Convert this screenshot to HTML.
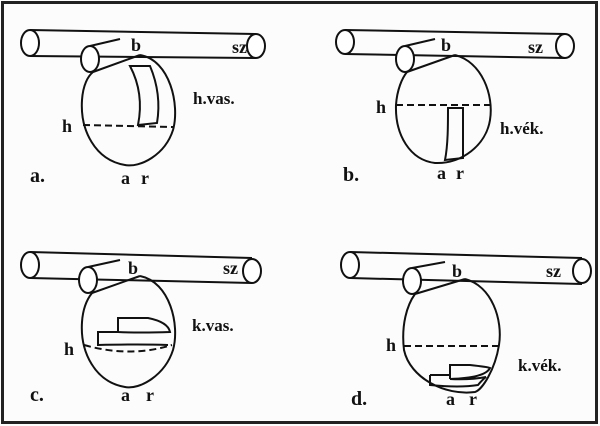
<!DOCTYPE html>
<html><head><meta charset="utf-8"><style>
html,body{margin:0;padding:0;background:#fff}
svg{display:block}
text{font-family:"Liberation Serif",serif;font-weight:bold;fill:#111}
</style></head><body>
<svg width="600" height="426" viewBox="0 0 600 426" xmlns="http://www.w3.org/2000/svg">
<rect x="0" y="0" width="600" height="426" fill="#fcfcfc"/>
<rect x="2.5" y="2.5" width="594" height="420" fill="none" stroke="#222" stroke-width="3"/>
<g fill="none" stroke="#111" stroke-width="2">
<!-- Panel a -->
<line x1="30" y1="30" x2="256" y2="34"/><line x1="30" y1="56" x2="256" y2="58"/>
<ellipse cx="30" cy="43" rx="9" ry="13" fill="#fff"/><ellipse cx="256" cy="46" rx="9" ry="12" fill="#fff"/>
<path d="M140,55 C170,60 180,105 173,130 C165,155 140,168 125,165 C95,160 80,130 82,100 C83,85 88,76 93,72"/>
<ellipse cx="90" cy="59" rx="9" ry="13" fill="#fff"/>
<line x1="90" y1="46" x2="120" y2="39"/><line x1="93" y1="72" x2="140" y2="55"/>
<line x1="83" y1="125" x2="173" y2="127" stroke-dasharray="7,4"/>
<path d="M130,66 L150,66 C158,85 160,105 157,123 L138,125 C142,105 140,85 130,66 Z"/>
<!-- Panel b -->
<line x1="345" y1="30" x2="565" y2="34"/><line x1="345" y1="54" x2="565" y2="58"/>
<ellipse cx="345" cy="42" rx="9" ry="12" fill="#fff"/><ellipse cx="565" cy="46" rx="9" ry="12" fill="#fff"/>
<path d="M455,55 C482,62 494,95 490,120 C486,145 462,164 435,163 C410,160 395,135 396,105 C397,90 402,78 407,72"/>
<ellipse cx="405" cy="59" rx="9" ry="13" fill="#fff"/>
<line x1="405" y1="46" x2="435" y2="39"/><line x1="407" y1="72" x2="455" y2="55"/>
<line x1="396" y1="105" x2="490" y2="105" stroke-dasharray="7,4"/>
<path d="M448,108 L463,108 L463,158 L445,160 C448,145 448,125 448,108 Z"/>
<!-- Panel c -->
<line x1="30" y1="252" x2="252" y2="258"/><line x1="30" y1="278" x2="252" y2="283"/>
<ellipse cx="30" cy="265" rx="9" ry="13" fill="#fff"/><ellipse cx="252" cy="271" rx="9" ry="12" fill="#fff"/>
<path d="M140,276 C170,282 180,325 173,350 C165,375 140,390 125,387 C95,382 80,352 82,322 C83,307 88,298 92,293"/>
<ellipse cx="88" cy="280" rx="9" ry="13" fill="#fff"/>
<line x1="88" y1="267" x2="120" y2="260"/><line x1="92" y1="293" x2="140" y2="276"/>
<path d="M84,345 Q130,358 172,345" stroke-dasharray="7,4"/>
<path d="M118,332 L118,318 L148,318 Q168,322 170,332 Q140,333 118,332 L98,332 L98,345 Q140,344 168,345"/>
<!-- Panel d -->
<line x1="350" y1="252" x2="582" y2="258"/><line x1="350" y1="278" x2="582" y2="284"/>
<ellipse cx="350" cy="265" rx="9" ry="13" fill="#fff"/><ellipse cx="582" cy="271" rx="9" ry="12" fill="#fff"/>
<path d="M465,279 C492,286 503,320 499,345 C495,370 482,390 475,392 C445,396 410,378 404,350 C401,325 407,305 415,294"/>
<ellipse cx="412" cy="281" rx="9" ry="13" fill="#fff"/>
<line x1="412" y1="268" x2="445" y2="262"/><line x1="415" y1="294" x2="465" y2="279"/>
<line x1="404" y1="346" x2="498" y2="346" stroke-dasharray="7,4"/>
<path d="M450,379 L450,365 L470,365 Q488,367 490,368 Q485,378 450,379 M430,375 L450,375 M430,375 L430,385 Q460,388 478,385 Q482,380 486,377 Q470,380 450,379"/>
</g>
<g font-size="18">
<text x="131" y="51">b</text><text x="232" y="53">sz</text><text x="193" y="104" font-size="17">h.vas.</text>
<text x="62" y="132">h</text><text x="30" y="182" font-size="20">a.</text><text x="121" y="184">a</text><text x="141" y="184">r</text>
<text x="441" y="51">b</text><text x="528" y="53">sz</text><text x="500" y="134" font-size="17">h.vék.</text>
<text x="376" y="113">h</text><text x="343" y="181" font-size="20">b.</text><text x="437" y="179">a</text><text x="456" y="179">r</text>
<text x="128" y="274">b</text><text x="223" y="274">sz</text><text x="192" y="331" font-size="17">k.vas.</text>
<text x="64" y="355">h</text><text x="30" y="401" font-size="20">c.</text><text x="121" y="401">a</text><text x="146" y="401">r</text>
<text x="452" y="277">b</text><text x="546" y="277">sz</text><text x="518" y="371" font-size="17">k.vék.</text>
<text x="386" y="351">h</text><text x="351" y="405" font-size="20">d.</text><text x="446" y="405">a</text><text x="469" y="405">r</text>
</g>
</svg>
</body></html>
